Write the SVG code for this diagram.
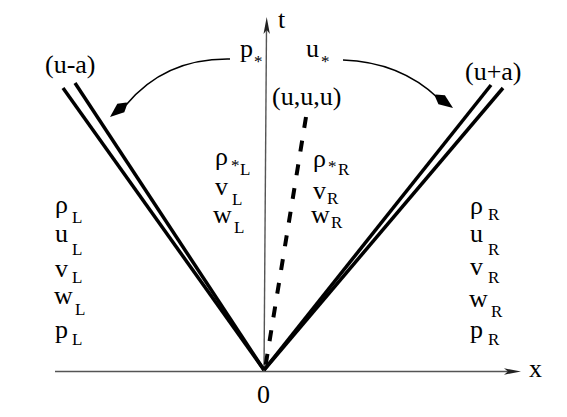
<svg xmlns="http://www.w3.org/2000/svg" width="567" height="417" viewBox="0 0 567 417">
<style>
.m{font-size:26px}
.s{font-size:17px}
.axis{stroke:#555;stroke-width:1.4;fill:none}
.wave{stroke:#000;stroke-width:3.5;fill:none;stroke-linecap:butt}
.contact{stroke:#000;stroke-width:4;fill:none;stroke-dasharray:11 13}
.curve{stroke:#000;stroke-width:1.6;fill:none}
</style>
<defs>
<path id="head" d="M0,0 L-14,-5.5 L-22,-0.8 L-22,0.8 L-14,5.5 Z" fill="#000"/>
<path id="axhead" d="M0,0 L-17,-3.2 L-13,0 L-17,3.2 Z" fill="#222"/>
</defs>
<rect width="567" height="417" fill="#fff"/>
<g id="connectors">
<g id="axes">
<line class="axis" x1="55" y1="371.5" x2="510" y2="371.5"/>
<use href="#axhead" transform="translate(521,371.5)"/>
<line class="axis" x1="264" y1="371.5" x2="266.5" y2="28"/>
<use href="#axhead" transform="translate(266.7,17) rotate(-90)"/>
</g>
<g id="left-wave">
<line class="wave" x1="63" y1="88" x2="264" y2="370"/>
<line class="wave" x1="75" y1="83" x2="264" y2="370"/>
</g>
<g id="right-wave">
<line class="wave" x1="491" y1="85" x2="264" y2="370"/>
<line class="wave" x1="503" y1="88" x2="264" y2="370"/>
</g>
<line id="contact" class="contact" x1="306" y1="117" x2="265" y2="369"/>
<g id="arrow-left">
<path class="curve" d="M230,59 Q165,58 126,105"/>
<use href="#head" transform="translate(110,117) rotate(140.5)"/>
</g>
<g id="arrow-right">
<path class="curve" d="M343,60 Q400,62 438,98"/>
<use href="#head" transform="translate(453,108) rotate(36)"/>
</g>
</g>
<g font-family="'Liberation Serif','Times New Roman','DejaVu Serif',serif" fill="#000">
<g id="label-t"><text class="m" x="278" y="28">t</text></g>
<g id="label-x"><text class="m" x="529" y="377">x</text></g>
<g id="label-0"><text class="m" x="257" y="403" font-size="24">0</text></g>
<g id="label-u-a"><text class="m" x="45" y="73">(u-a)</text></g>
<g id="label-u+a"><text class="m" x="465" y="80">(u+a)</text></g>
<g id="label-uuu"><text class="m" x="272" y="105">(u,u,u)</text></g>
<g id="label-pstar"><text class="m" x="240" y="57">p</text><text class="s" x="254" y="67">*</text></g>
<g id="label-ustar"><text class="m" x="306" y="57">u</text><text class="s" x="321" y="67">*</text></g>
<g id="star-left">
<text class="m" x="215" y="165">ρ</text><text class="s" x="231" y="171">*</text><text class="s" x="240" y="175">L</text>
<text class="m" x="215" y="195">v</text><text class="s" x="232" y="205">L</text>
<text class="m" x="213" y="223">w</text><text class="s" x="234" y="233">L</text>
</g>
<g id="star-right">
<text class="m" x="313" y="167">ρ</text><text class="s" x="328" y="172">*</text><text class="s" x="338" y="175">R</text>
<text class="m" x="313" y="199">v</text><text class="s" x="327" y="204">R</text>
<text class="m" x="311" y="223">w</text><text class="s" x="331" y="228">R</text>
</g>
<g id="state-left">
<text class="m" x="55" y="213">ρ</text><text class="s" x="72" y="223">L</text>
<text class="m" x="55" y="242">u</text><text class="s" x="72" y="255">L</text>
<text class="m" x="55" y="277">v</text><text class="s" x="72" y="283">L</text>
<text class="m" x="54" y="304">w</text><text class="s" x="75" y="315">L</text>
<text class="m" x="55" y="338">p</text><text class="s" x="72" y="345">L</text>
</g>
<g id="state-right">
<text class="m" x="470" y="214">ρ</text><text class="s" x="488" y="220">R</text>
<text class="m" x="470" y="242">u</text><text class="s" x="488" y="255">R</text>
<text class="m" x="470" y="275">v</text><text class="s" x="488" y="283">R</text>
<text class="m" x="469" y="307">w</text><text class="s" x="491" y="317">R</text>
<text class="m" x="470" y="338">p</text><text class="s" x="488" y="345">R</text>
</g>
</g>
</svg>
